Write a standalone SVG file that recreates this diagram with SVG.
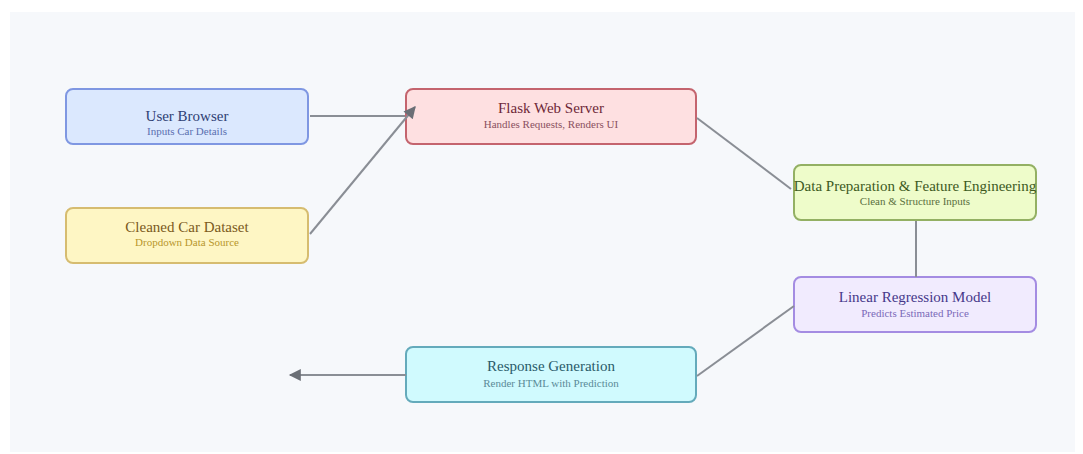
<svg xmlns="http://www.w3.org/2000/svg" width="1083" height="454" viewBox="0 0 1083 454">
<defs>
<marker id="ahl" viewBox="0 0 10 10" refX="9" refY="5" markerWidth="16" markerHeight="12" markerUnits="userSpaceOnUse" orient="auto">
<path d="M0,0 L10,5 L0,10 z" fill="#6b6f76"/>
</marker>
</defs>
<style>
.box{stroke-width:2}
.t{font-family:"Liberation Serif","DejaVu Serif",serif;font-size:15px;text-anchor:middle}
.s{font-family:"Liberation Serif","DejaVu Serif",serif;font-size:11px;text-anchor:middle}
.c{stroke:#8a8e95;stroke-width:2;fill:none}
</style>
<rect x="0" y="0" width="1083" height="454" fill="#ffffff"/>
<rect x="10" y="12" width="1065" height="440" fill="#f6f8fb"/>
<g id="user-browser">
<rect class="box" x="66" y="89" width="242" height="55" rx="7" fill="#dbe8fe" stroke="#7f97e2"/>
<text class="t" x="187" y="121" fill="#2f3f74">User Browser</text>
<text class="s" x="187" y="135" fill="#5a6fb0">Inputs Car Details</text>
</g>
<g id="cleaned-dataset">
<rect class="box" x="66" y="208" width="242" height="55" rx="7" fill="#fef6c4" stroke="#d6bc70"/>
<text class="t" x="187" y="232" fill="#7b5a1c">Cleaned Car Dataset</text>
<text class="s" x="187" y="246" fill="#b8962c">Dropdown Data Source</text>
</g>
<g id="flask">
<rect class="box" x="406" y="89" width="290" height="55" rx="7" fill="#fee0e1" stroke="#c4646e"/>
<text class="t" x="551" y="113" fill="#6e2838">Flask Web Server</text>
<text class="s" x="551" y="128" fill="#8a5060">Handles Requests, Renders UI</text>
</g>
<g id="data-prep">
<rect class="box" x="794" y="165" width="242" height="55" rx="7" fill="#eefcca" stroke="#93b063"/>
<text class="t" x="915" y="191" fill="#3d5a1e">Data Preparation &amp; Feature Engineering</text>
<text class="s" x="915" y="205" fill="#5a7040">Clean &amp; Structure Inputs</text>
</g>
<g id="linear-regression">
<rect class="box" x="794" y="277" width="242" height="55" rx="7" fill="#f1ebfe" stroke="#a48ce2"/>
<text class="t" x="915" y="302" fill="#46388a">Linear Regression Model</text>
<text class="s" x="915" y="317" fill="#7a6ab8">Predicts Estimated Price</text>
</g>
<g id="response">
<rect class="box" x="406" y="347" width="290" height="55" rx="7" fill="#d0fafe" stroke="#64aabb"/>
<text class="t" x="551" y="371" fill="#2a5a6a">Response Generation</text>
<text class="s" x="551" y="387" fill="#5a8a98">Render HTML with Prediction</text>
</g>
<g id="connectors">
<line class="c" x1="310" y1="116" x2="405" y2="116"/>
<line class="c" x1="310" y1="234" x2="415" y2="107" marker-end="url(#ahl)"/>
<line class="c" x1="697" y1="118" x2="791" y2="189"/>
<line class="c" x1="916" y1="221" x2="916" y2="277"/>
<line class="c" x1="794" y1="306" x2="697" y2="376"/>
<line class="c" x1="406" y1="375" x2="290" y2="375" marker-end="url(#ahl)"/>
</g>
</svg>
